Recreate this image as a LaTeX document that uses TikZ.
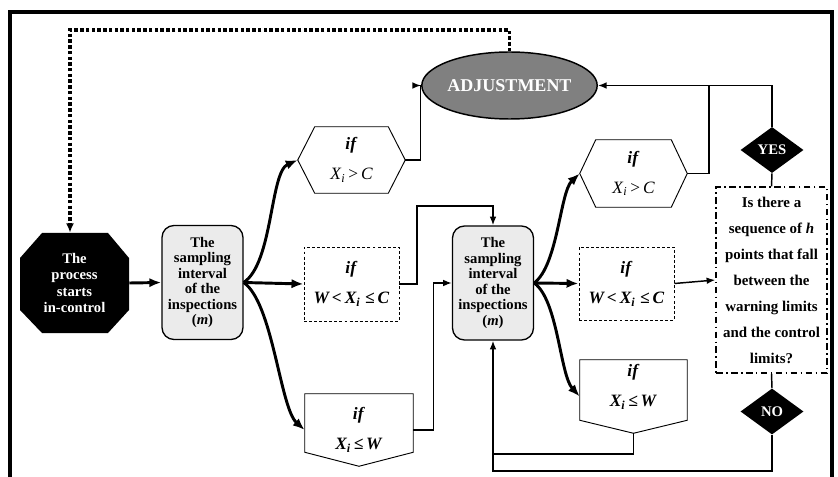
\documentclass[tikz,border=0pt]{standalone}
\usepackage{fontspec}
\setmainfont{Liberation Serif}
\usetikzlibrary{arrows.meta,shapes.geometric,calc}
\newcommand\pxl[1]{#1*0.75pt}
\begin{document}
\begin{tikzpicture}[x=0.75pt,y=-0.75pt,
  conn/.style={line width=1.1pt},
  tip/.style={-{Latex[length=6.5pt,width=5pt]}},
  thick arrow/.style={line width=2.2pt,-{Latex[length=9pt,width=7pt]}},
  shapeline/.style={line width=0.7pt},
  octtext/.style={text=white,font=\fontsize{11}{12.3}\selectfont\bfseries,align=center,
    minimum width=\pxl{109},minimum height=\pxl{100},inner sep=0pt},
  sbox/.style={draw,line width=1pt,rounded corners=9pt,fill=black!8,
    minimum width=\pxl{81},minimum height=\pxl{114},inner sep=1pt,align=center,
    font=\fontsize{11}{11.6}\selectfont\bfseries},
  ifbox/.style={inner sep=0pt,align=center,font=\fontsize{13}{22.5}\selectfont},
  dashbox/.style={ifbox,draw,line width=0.7pt,dash pattern=on 2.2pt off 1.6pt},
  qbox/.style={draw,line width=1.1pt,dash pattern=on 5pt off 2.5pt on 1.2pt off 2.5pt,
    minimum width=\pxl{111},minimum height=\pxl{186},inner sep=1pt,align=center,
    font=\fontsize{11.2}{19.5}\selectfont\bfseries},
  dia/.style={diamond,fill=black,text=white,inner sep=0pt,
    minimum width=\pxl{63},minimum height=\pxl{46},font=\fontsize{11}{12}\selectfont\bfseries},
  dotline/.style={line width=2.4pt,dash pattern=on 2.6pt off 1.7pt}
]
\useasboundingbox (0,0) rectangle (838,477);
% outer frame
\draw[line width=2.3pt] (10,477) -- (10,12) -- (832,12) -- (832,477);

% start octagon
\fill (42,233) -- (108,233) -- (129,258) -- (129,310) -- (108,333) -- (42,333) -- (20,310) -- (20,258) -- cycle;
\node[octtext] (start) at (74.5,283) {The\\process\\starts\\in-control};

% sampling boxes
\node[sbox] (s1) at (202.5,282.5) {The\\sampling\\interval\\of the\\inspections\\(\textit{m})};
\node[sbox] (s2) at (493,283) {The\\sampling\\interval\\of the\\inspections\\(\textit{m})};

% adjustment
\node[ellipse,draw,line width=1.1pt,fill=black!50,text=white,minimum width=\pxl{143},
  minimum height=\pxl{67},inner sep=0pt,font=\fontsize{13.5}{14}\selectfont\bfseries] (adj) at (509.5,85.5) {ADJUSTMENT};

% first column of conditions
\node[ifbox,minimum width=\pxl{107},minimum height=\pxl{66}] (h1) at (351.5,160)
  {\textbf{\textit{if}}\\\textit{X}\textsubscript{\textit{i}}\,>\,\textit{C}};
\draw[shapeline] (h1.west) -- ($(h1.north west)+(17,0)$) -- ($(h1.north east)+(-17,0)$) -- (h1.east)
  -- ($(h1.south east)+(-17,0)$) -- ($(h1.south west)+(17,0)$) -- cycle;
\node[dashbox,minimum width=\pxl{95},minimum height=\pxl{74}] (d1) at (351.5,284)
  {\textbf{\textit{if}}\\\textbf{\textit{W\,<\,X\textsubscript{i}\;≤\,C}}};
\node[ifbox,minimum width=\pxl{108},minimum height=\pxl{72}] (p1) at (359,430)
  {\textbf{\textit{if}}\\\textbf{\textit{X\textsubscript{i}\,≤\,W}}};
\draw[shapeline] (p1.north west) -- ($(p1.south west)+(0,-14)$) -- (p1.south) -- ($(p1.south east)+(0,-14)$) -- (p1.north east) -- cycle;

% second column of conditions
\node[ifbox,minimum width=\pxl{107},minimum height=\pxl{67}] (h2) at (633.5,173.5)
  {\textbf{\textit{if}}\\\textit{X}\textsubscript{\textit{i}}\,>\,\textit{C}};
\draw[shapeline] (h2.west) -- ($(h2.north west)+(16,0)$) -- ($(h2.north east)+(-16,0)$) -- (h2.east)
  -- ($(h2.south east)+(-16,0)$) -- ($(h2.south west)+(16,0)$) -- cycle;
\node[dashbox,minimum width=\pxl{95},minimum height=\pxl{73}] (d2) at (626.5,283.5)
  {\textbf{\textit{if}}\\\textbf{\textit{W\,<\,X\textsubscript{i}\;≤\,C}}};
\node[ifbox,minimum width=\pxl{107},minimum height=\pxl{73}] (p2) at (633.5,396.5)
  {\textbf{\textit{if}}\\\textbf{\textit{X\textsubscript{i}\,≤\,W}}\\[-6pt]};
\draw[shapeline] (p2.north west) -- ($(p2.south west)+(0,-13)$) -- (p2.south) -- ($(p2.south east)+(0,-13)$) -- (p2.north east) -- cycle;

% question box and diamonds
\node[qbox] (q) at (771.5,280) {Is there a\\sequence of \textit{h}\\points that fall\\between the\\warning limits\\and the control\\limits?};
\node[dia] (yes) at (772,150) {YES};
\node[dia] (no) at (772,411.5) {NO};

% helper coordinates
\coordinate (dtop) at (70,30);
\coordinate (k1) at (417,206);
\coordinate (j2) at (709,85.5);
\coordinate (ya) at (0,454);
\coordinate (yb) at (0,471);

% dotted return line
\draw[dotline,-{Latex[length=7pt,width=6pt]}] (adj.north) |- (dtop) -- (dtop |- start.north);

% main flow
\draw[thick arrow] (start.east) -- (s1.west);
\draw[thick arrow] (s1.east) .. controls (273,263) and (270,172) .. (h1.west);
\draw[thick arrow] (s1.east) -- (d1.west);
\draw[thick arrow] (s1.east) .. controls (273,303) and (280,408) .. (p1.west);

\draw[conn,tip] (h1.east) -- ++(15,0) |- (adj.west);
\draw[conn,tip] (d1.east) -| (k1) -| (s2.north);
\draw[conn,tip] (p1.east) -- ++(20,0) |- (s2.west);

\draw[thick arrow] (s2.east) .. controls (558,265) and (560,192) .. (h2.west);
\draw[thick arrow] (s2.east) -- (d2.west);
\draw[thick arrow] (s2.east) .. controls (558,300) and (560,375) .. (p2.west);

\draw[conn] (h2.east) -| (j2);
\draw[conn,tip] (yes.north) |- (adj.east);
\draw[conn] (yes.south) -- (q.north);
\draw[conn,tip] (d2.east) -- (q.west);
\draw[conn] (q.south) -- (no.north);
\draw[conn,tip] (no.south) |- (s2.south |- yb) -- (s2.south);
\draw[conn] (p2.south) |- (s2.south |- ya);
\end{tikzpicture}
\end{document}
